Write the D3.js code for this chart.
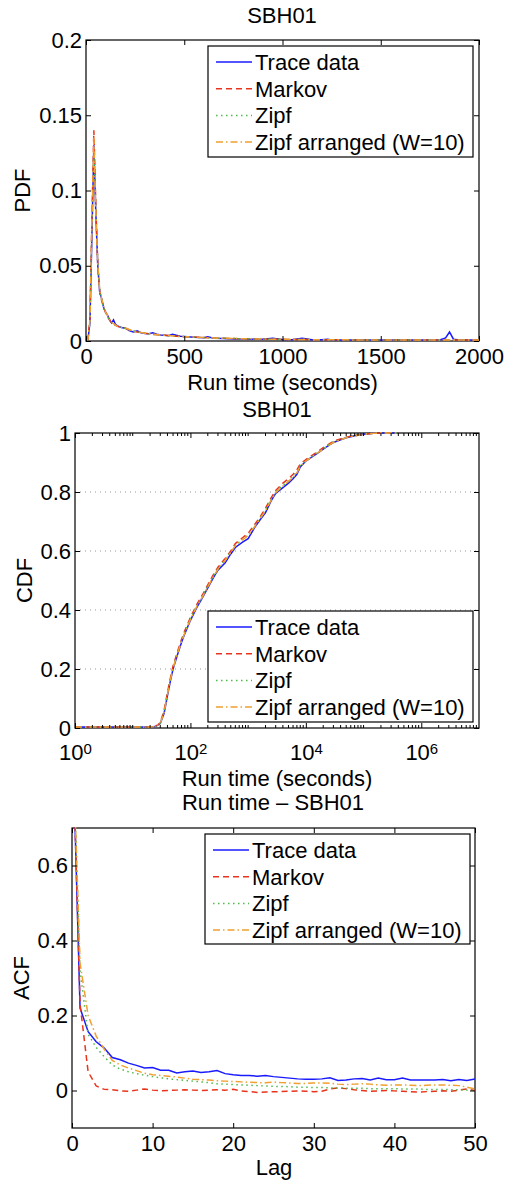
<!DOCTYPE html>
<html>
<head>
<meta charset="utf-8">
<script src="https://cdn.jsdelivr.net/npm/d3@7"></script>
<style>
  body { margin: 0; background: #fff; }
  svg text { font-family: "Liberation Sans", Arial, Helvetica, sans-serif; fill: #000; }
</style>
</head>
<body>
<svg id="chart" width="506" height="1181"></svg>
<script>
// ---------------- data ----------------
const seriesNames = ["Trace data", "Markov", "Zipf", "Zipf arranged (W=10)"];

// PDF panel (run time in seconds)
const pdfX = [0,10,20,30,40,50,60,70,80,90,
  100,110,120,130,140,150,160,180,200,
  220,240,260,280,300,320,340,360,380,400,
  420,440,460,480,500,
  550,600,620,650,700,750,800,850,900,950,1000,
  1050,1100,1150,1200,1230,1250,1300,
  1400,1500,1600,1700,1800,1830,1850,1870,1900,1950,2000];
const pdfTrace = [0,0.001,0.012,0.07,0.13,0.085,0.05,0.032,0.028,0.022,
  0.019,0.017,0.014,0.012,0.014,0.011,0.010,0.009,0.0085,
  0.007,0.006,0.0068,0.0055,0.005,0.0048,0.0055,0.0045,0.004,0.0038,
  0.0035,0.0045,0.0038,0.0032,0.003,
  0.0025,0.0022,0.0028,0.0018,0.0016,0.0014,0.0013,0.0012,0.0011,0.0018,0.001,
  0.0009,0.0018,0.0008,0.0008,0.0012,0.0007,0.0006,
  0.0006,0.0005,0.0005,0.0004,0.0004,0.002,0.006,0.0012,0.0005,0.0004,0.0003];
const pdfMarkov = [0,0.001,0.015,0.08,0.14,0.09,0.05,0.033,0.027,0.022,
  0.019,0.016,0.014,0.012,0.011,0.0105,0.0098,0.009,0.0085,
  0.0075,0.0065,0.006,0.0055,0.0052,0.0048,0.0045,0.0042,0.004,0.0038,
  0.0036,0.0034,0.0032,0.003,0.0029,
  0.0026,0.0023,0.0022,0.002,0.0018,0.0016,0.0015,0.0014,0.0013,0.0012,0.0011,
  0.001,0.001,0.0009,0.0009,0.0008,0.0008,0.0008,
  0.0007,0.0006,0.0006,0.0005,0.0005,0.0005,0.0005,0.0005,0.0004,0.0004,0.0004];
const pdfZipf = [0,0.001,0.013,0.075,0.125,0.088,0.052,0.034,0.027,0.022,
  0.019,0.016,0.014,0.0125,0.0112,0.0104,0.0097,0.009,0.0084,
  0.0074,0.0066,0.006,0.0056,0.0051,0.0047,0.0044,0.0042,0.0039,0.0037,
  0.0035,0.0033,0.0031,0.003,0.0028,
  0.0025,0.0022,0.0021,0.002,0.0018,0.0016,0.0015,0.0014,0.0013,0.0012,0.0011,
  0.001,0.001,0.0009,0.0009,0.0008,0.0008,0.0007,
  0.0007,0.0006,0.0006,0.0005,0.0005,0.0005,0.0005,0.0004,0.0004,0.0004,0.0004];
const pdfZipfArr = [0,0.001,0.014,0.078,0.135,0.086,0.051,0.033,0.028,0.023,
  0.019,0.017,0.0145,0.0125,0.0115,0.0105,0.0099,0.0092,0.0086,
  0.0076,0.0067,0.0062,0.0057,0.0052,0.0049,0.0046,0.0043,0.004,0.0038,
  0.0036,0.0034,0.0032,0.003,0.0029,
  0.0026,0.0023,0.0022,0.002,0.0018,0.0017,0.0015,0.0014,0.0013,0.0012,0.0011,
  0.001,0.001,0.0009,0.0009,0.0008,0.0008,0.0008,
  0.0007,0.0006,0.0006,0.0005,0.0005,0.0005,0.0005,0.0005,0.0004,0.0004,0.0004];
const pdfXTicks = [0, 500, 1000, 1500, 2000];
const pdfYTicks = [0, 0.05, 0.1, 0.15, 0.2];

// CDF panel (log x)
const cdfX = [1,2,5,10,20,25,30,35,40,45,
  50,60,70,80,100,130,160,200,250,300,
  400,500,600,800,1000,1300,1600,2000,2500,3000,
  4000,5000,6000,7000,8000,10000,13000,16000,20000,25000,
  30000,40000,50000,70000,100000,150000,200000,400000];
const cdfTrace = [0,0,0,0,0.002,0.005,0.015,0.05,0.11,0.16,
  0.2,0.25,0.29,0.32,0.365,0.41,0.44,0.475,0.51,0.535,
  0.56,0.59,0.612,0.63,0.642,0.68,0.705,0.73,0.77,0.795,
  0.815,0.83,0.845,0.86,0.885,0.905,0.92,0.932,0.945,0.958,
  0.968,0.977,0.984,0.991,0.996,0.999,1,1];
const cdfMarkov = [0,0,0,0,0.002,0.006,0.018,0.06,0.12,0.17,
  0.21,0.26,0.3,0.33,0.375,0.42,0.45,0.485,0.52,0.545,
  0.575,0.6,0.625,0.645,0.66,0.69,0.715,0.745,0.78,0.805,
  0.83,0.845,0.86,0.875,0.895,0.91,0.925,0.937,0.95,0.962,
  0.972,0.98,0.986,0.992,0.996,0.999,1,1];
const cdfZipf = [0,0,0,0,0.002,0.005,0.016,0.055,0.115,0.165,
  0.205,0.255,0.295,0.325,0.37,0.415,0.445,0.48,0.515,0.54,
  0.57,0.597,0.62,0.64,0.655,0.685,0.71,0.74,0.775,0.8,
  0.822,0.838,0.852,0.867,0.89,0.907,0.922,0.935,0.947,0.96,
  0.97,0.978,0.985,0.991,0.996,0.999,1,1];
const cdfZipfArr = [0,0,0,0,0.002,0.005,0.016,0.053,0.113,0.163,
  0.203,0.253,0.293,0.323,0.368,0.413,0.443,0.478,0.513,0.538,
  0.568,0.595,0.618,0.638,0.652,0.683,0.708,0.737,0.772,0.798,
  0.82,0.836,0.85,0.865,0.888,0.905,0.92,0.933,0.945,0.958,
  0.968,0.977,0.984,0.99,0.995,0.999,1,1];
const cdfXTicks = [1, 1e2, 1e4, 1e6];
const cdfYTicks = [0, 0.2, 0.4, 0.6, 0.8, 1];

// ACF panel (lags 0..50)
const acfLag = d3.range(0, 51);
const acfTrace = [1,0.22,0.157,0.13,0.113,0.088,0.082,0.073,0.067,0.06,
  0.061,0.054,0.054,0.047,0.05,0.052,0.048,0.05,0.053,0.045,
  0.042,0.04,0.04,0.038,0.04,0.037,0.035,0.033,0.031,0.03,
  0.03,0.031,0.034,0.027,0.028,0.031,0.032,0.028,0.033,0.029,
  0.029,0.033,0.028,0.028,0.028,0.028,0.029,0.026,0.029,0.027,0.031];
const acfMarkov = [1,0.23,0.05,0.012,0.003,0.002,-0.001,-0.002,0.001,0.004,
  0.001,-0.001,0,0.001,0.002,0.001,0,0.001,0.002,0.001,
  0.003,-0.001,-0.003,-0.005,-0.004,-0.003,-0.003,-0.002,-0.001,-0.002,
  -0.003,-0.002,0.004,0.007,0.005,0.002,0,-0.002,-0.001,0,
  -0.001,-0.002,-0.003,-0.004,-0.003,-0.002,-0.001,-0.002,0.001,0.004,0];
const acfZipf = [1,0.32,0.15,0.115,0.09,0.068,0.057,0.05,0.045,0.041,
  0.037,0.034,0.031,0.029,0.027,0.025,0.023,0.021,0.018,0.017,
  0.016,0.015,0.014,0.013,0.012,0.011,0.011,0.01,0.009,0.009,
  0.008,0.008,0.007,0.007,0.006,0.006,0.006,0.005,0.005,0.005,
  0.005,0.004,0.004,0.004,0.003,0.003,0.003,0.002,0.002,0.001,0];
const acfZipfArr = [1,0.34,0.2,0.145,0.11,0.08,0.068,0.06,0.053,0.046,
  0.042,0.04,0.038,0.036,0.033,0.03,0.029,0.028,0.026,0.025,
  0.024,0.023,0.022,0.021,0.021,0.022,0.021,0.02,0.019,0.019,
  0.02,0.02,0.019,0.017,0.016,0.017,0.018,0.017,0.015,0.014,
  0.015,0.015,0.014,0.013,0.014,0.015,0.015,0.014,0.013,0.009,0.004];
const acfXTicks = [0, 10, 20, 30, 40, 50];
const acfYTicks = [0, 0.2, 0.4, 0.6];

// ---------------- styles ----------------
const styles = [
  { color: "#1a1aff", dash: null },
  { color: "#e8341c", dash: "6,4" },
  { color: "#4cbb4c", dash: "1.5,3.5" },
  { color: "#f0a030", dash: "7,3,1.5,3" }
];
const FS = 22;

const svg = d3.select("#chart");
svg.append("rect").attr("width", 506).attr("height", 1181).attr("fill", "#fff");

function fmt(d) { return String(+d.toFixed(2)); }

function drawPanel(p) {
  const g = svg.append("g");
  const x = p.log
    ? d3.scaleLog().domain(p.xDomain).range([p.left, p.right])
    : d3.scaleLinear().domain(p.xDomain).range([p.left, p.right]);
  const y = d3.scaleLinear().domain(p.yDomain).range([p.bottom, p.top]);

  const clipId = "clip" + p.id;
  svg.append("clipPath").attr("id", clipId)
    .append("rect")
    .attr("x", p.left).attr("y", p.top - 1)
    .attr("width", p.right - p.left).attr("height", p.bottom - p.top + 1);

  // dotted grid
  if (p.grid) {
    g.append("g").selectAll("line")
      .data(p.yTicks.filter(v => v > p.yDomain[0] && v < p.yDomain[1]))
      .enter().append("line")
      .attr("x1", p.left).attr("x2", p.right)
      .attr("y1", d => y(d)).attr("y2", d => y(d))
      .attr("stroke", "#999").attr("stroke-width", 1)
      .attr("stroke-dasharray", "1,4");
  }

  // box
  g.append("rect")
    .attr("x", p.left).attr("y", p.top)
    .attr("width", p.right - p.left).attr("height", p.bottom - p.top)
    .attr("fill", "none").attr("stroke", "#000").attr("stroke-width", 1.2);

  // lines (drawn over the frame so the zero runs stay visible)
  const line = d3.line().x((d, i) => x(p.xs[i])).y(d => Math.min(y(d), p.bottom - 1));
  g.append("g").attr("clip-path", `url(#${clipId})`)
    .selectAll("path")
    .data(p.series)
    .enter().append("path")
    .attr("d", d => line(d))
    .attr("fill", "none")
    .attr("stroke", (d, i) => styles[i].color)
    .attr("stroke-width", 1.5)
    .attr("stroke-dasharray", (d, i) => styles[i].dash);

  // axes, ticks point inward like matlab
  const tl = 5;
  const bottom = g.append("g").attr("transform", `translate(0,${p.bottom})`)
    .call(d3.axisBottom(x).tickValues(p.xTicks).tickSize(-tl).tickPadding(p.log ? 16.5 : 7)
      .tickFormat(p.log ? () => "" : fmt));
  g.append("g").attr("transform", `translate(0,${p.top})`)
    .call(d3.axisTop(x).tickValues(p.xTicks).tickSize(-tl).tickFormat(""));
  g.append("g").attr("transform", `translate(${p.left},0)`)
    .call(d3.axisLeft(y).tickValues(p.yTicks).tickSize(-tl).tickPadding(4).tickFormat(fmt));
  g.append("g").attr("transform", `translate(${p.right},0)`)
    .call(d3.axisRight(y).tickValues(p.yTicks).tickSize(-tl).tickFormat(""));

  if (p.log) {
    // minor ticks
    const minors = [];
    for (let e = 0; e < 7; e++) {
      for (let m = 2; m <= 10; m++) {
        const v = m * Math.pow(10, e);
        if (v < p.xDomain[1] && !p.xTicks.includes(v)) minors.push(v);
      }
    }
    [[p.bottom, -1], [p.top, 1]].forEach(([yy, dir]) => {
      g.append("g").selectAll("line").data(minors).enter().append("line")
        .attr("x1", d => x(d)).attr("x2", d => x(d))
        .attr("y1", yy).attr("y2", yy + dir * 3)
        .attr("stroke", "#000").attr("stroke-width", 1);
    });
    bottom.selectAll(".tick text").each(function (d) {
      const t = d3.select(this);
      t.append("tspan").text("10");
      t.append("tspan").attr("dy", "-0.4em").attr("font-size", 15).text(Math.round(Math.log10(d)));
    });
  }

  g.selectAll(".domain").remove();
  g.selectAll(".tick line").attr("stroke", "#000");
  g.selectAll(".tick text").attr("font-size", FS)
    .attr("font-family", "Liberation Sans, Arial, sans-serif").attr("fill", "#000");

  // titles and labels
  const cx = (p.left + p.right) / 2;
  g.append("text").attr("x", p.titleX || cx).attr("y", p.titleY)
    .attr("text-anchor", "middle").attr("font-size", FS).text(p.title);
  g.append("text").attr("x", p.xLabelX || cx).attr("y", p.xLabelY)
    .attr("text-anchor", "middle").attr("font-size", FS).text(p.xLabel);
  g.append("text")
    .attr("transform", `translate(${p.yLabelX},${(p.top + p.bottom) / 2}) rotate(-90)`)
    .attr("text-anchor", "middle").attr("font-size", FS).text(p.yLabel);

  // legend
  const L = p.legend;
  const lg = g.append("g");
  lg.append("rect")
    .attr("x", L.x).attr("y", L.y).attr("width", L.w).attr("height", L.h)
    .attr("fill", "#fff").attr("stroke", "#000").attr("stroke-width", 1.2);
  const row = lg.selectAll("g.row").data(seriesNames).enter().append("g")
    .attr("transform", (d, i) => `translate(0,${L.y + 16 + i * 26.7})`);
  row.append("line")
    .attr("x1", L.x + 8).attr("x2", L.x + 44).attr("y1", 0).attr("y2", 0)
    .attr("stroke", (d, i) => styles[i].color)
    .attr("stroke-width", 1.5)
    .attr("stroke-dasharray", (d, i) => styles[i].dash);
  row.append("text")
    .attr("x", L.x + 47).attr("y", 0).attr("dy", "0.36em")
    .attr("font-size", FS).text(d => d);
}

drawPanel({
  id: 1, left: 86, right: 479, top: 40, bottom: 341,
  xDomain: [0, 2000], yDomain: [0, 0.2],
  xTicks: pdfXTicks, yTicks: pdfYTicks,
  xs: pdfX, series: [pdfTrace, pdfMarkov, pdfZipf, pdfZipfArr],
  title: "SBH01", titleX: 282, titleY: 23,
  xLabel: "Run time (seconds)", xLabelY: 390,
  yLabel: "PDF", yLabelX: 30,
  legend: { x: 208, y: 46, w: 265, h: 111 }
});

drawPanel({
  id: 2, left: 75, right: 479, top: 433, bottom: 728, log: true, grid: true,
  xDomain: [1, 1e7], yDomain: [0, 1],
  xTicks: cdfXTicks, yTicks: cdfYTicks,
  xs: cdfX, series: [cdfTrace, cdfMarkov, cdfZipf, cdfZipfArr],
  title: "SBH01", titleX: 277, titleY: 417,
  xLabel: "Run time (seconds)", xLabelX: 277, xLabelY: 786,
  yLabel: "CDF", yLabelX: 32,
  legend: { x: 208, y: 611, w: 265, h: 111 }
});

drawPanel({
  id: 3, left: 72, right: 475, top: 828, bottom: 1128,
  xDomain: [0, 50], yDomain: [-0.1, 0.7],
  xTicks: acfXTicks, yTicks: acfYTicks,
  xs: acfLag, series: [acfTrace, acfMarkov, acfZipf, acfZipfArr],
  title: "Run time \u2013 SBH01", titleX: 273, titleY: 810,
  xLabel: "Lag", xLabelX: 274, xLabelY: 1175,
  yLabel: "ACF", yLabelX: 29,
  legend: { x: 205, y: 834, w: 265, h: 110 }
});
</script>
</body>
</html>
